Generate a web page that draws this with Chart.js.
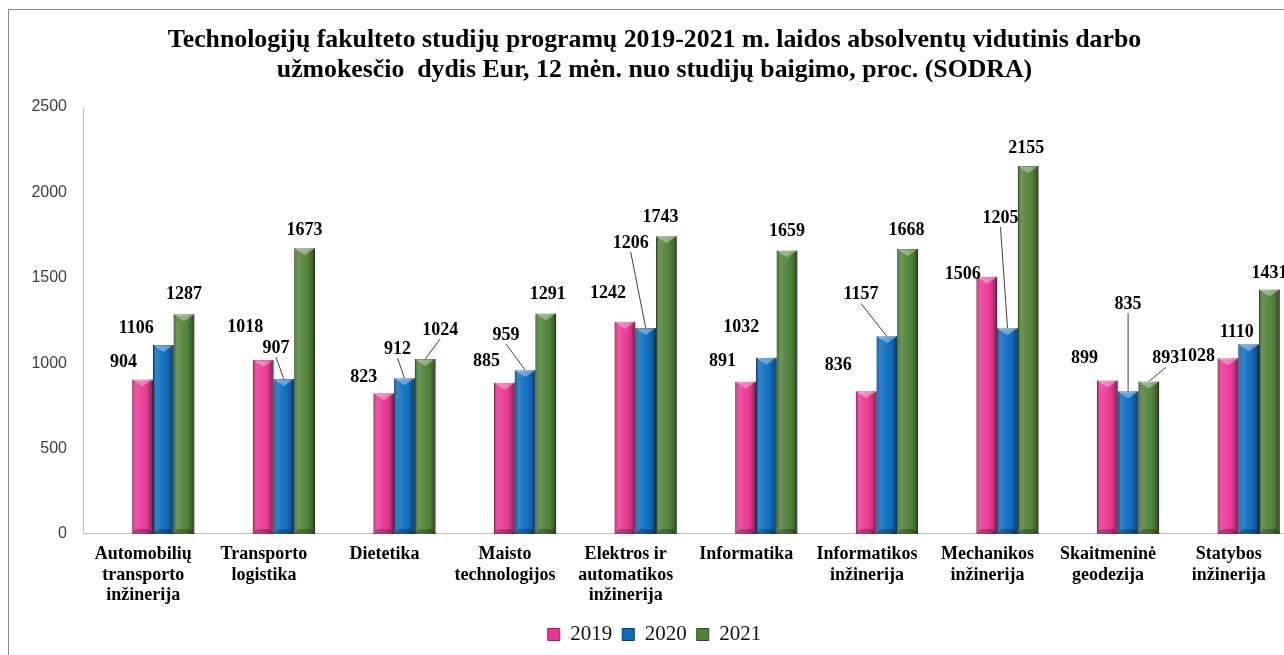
<!DOCTYPE html>
<html>
<head>
<meta charset="utf-8">
<script src="https://cdn.jsdelivr.net/npm/chart.js@4.4.1/dist/chart.umd.min.js"></script>
<style>
    html, body { margin: 0; padding: 0; background: #fff; overflow: hidden; }
    #frame { position: absolute; left: 8px; top: 9px; width: 1400px; height: 700px; border: 1px solid #8c8c8c; }
    #wrap { position: absolute; left: 0; top: 0; }
</style>
</head>
<body>
<div id="frame"></div>
<div id="wrap"><canvas id="salaryChart" width="1310" height="655"></canvas></div>
<script>
// study programmes (x axis), multi-line labels
const programmes = [
    ['Automobilių', 'transporto', 'inžinerija'],
    ['Transporto', 'logistika'],
    ['Dietetika'],
    ['Maisto', 'technologijos'],
    ['Elektros ir', 'automatikos', 'inžinerija'],
    ['Informatika'],
    ['Informatikos', 'inžinerija'],
    ['Mechanikos', 'inžinerija'],
    ['Skaitmeninė', 'geodezija'],
    ['Statybos', 'inžinerija']
];
const years = ['2019', '2020', '2021'];

// average salary, Eur
const pay2019 = [904, 1018, 823, 885, 1242, 891, 836, 1506, 899, 1028];
const pay2020 = [1106, 907, 912, 959, 1206, 1032, 1157, 1205, 835, 1110];
const pay2021 = [1287, 1673, 1024, 1291, 1743, 1659, 1668, 2155, 893, 1431];

const yTicks = [0, 500, 1000, 1500, 2000, 2500];

// where each value label sits relative to its bar top: [dx, dy, leader line]
const labelNudge = [
    [[-19, -17], [-18, -33], [-20, -16], [-18, -21], [-17, -28], [-23, -20], [-28, -26], [-24, -2], [-23, -22], [-31, -2]],
    [[-27, -17], [-8, -31, 1], [-7, -29, 1], [-19, -35, 1], [-15, -85, 1], [-25, -30], [-26, -42, 1], [-7, -110, 1], [0, -87, 1], [-12, -12]],
    [[0, -20], [0, -18], [15, -29, 1], [2, -19], [-6, -19], [0, -19], [-1, -19], [-2, -18], [17, -23, 1], [0, -16]]
];

const fillColors = ['#EC3593', '#0A6BC0', '#4F8236'];
const edgeColors = ['#9E1C5E', '#003A70', '#2A4A1A'];

// bevelled bar look + value labels
const barDecor = {
    id: 'barDecor',
    afterDatasetsDraw(chart) {
        const ctx = chart.ctx;
        chart.data.datasets.forEach((ds, di) => {
            chart.getDatasetMeta(di).data.forEach((bar) => {
                const { x, y, base, width } = bar.getProps(['x', 'y', 'base', 'width'], true);
                const l = x - width / 2, r = x + width / 2;
                const g = ctx.createLinearGradient(l, 0, r, 0);
                g.addColorStop(0, 'rgba(0,0,0,0.35)');
                g.addColorStop(0.18, 'rgba(255,255,255,0.16)');
                g.addColorStop(0.5, 'rgba(255,255,255,0.05)');
                g.addColorStop(0.8, 'rgba(0,0,0,0.12)');
                g.addColorStop(1, 'rgba(0,0,0,0.5)');
                ctx.save();
                ctx.fillStyle = g;
                ctx.fillRect(l, y, width, base - y);
                ctx.fillStyle = 'rgba(255,255,255,0.35)';
                ctx.beginPath();
                ctx.moveTo(l, y); ctx.lineTo(r, y); ctx.lineTo(x, y + 7);
                ctx.closePath(); ctx.fill();
                ctx.fillStyle = 'rgba(0,0,0,0.25)';
                ctx.beginPath();
                ctx.moveTo(l, base); ctx.lineTo(r, base); ctx.lineTo(r - 4, base - 5); ctx.lineTo(l + 4, base - 5);
                ctx.closePath(); ctx.fill();
                ctx.restore();
            });
        });

        ctx.save();
        ctx.font = 'bold 18px "Liberation Serif"';
        ctx.textAlign = 'center';
        ctx.textBaseline = 'middle';
        chart.data.datasets.forEach((ds, di) => {
            chart.getDatasetMeta(di).data.forEach((bar, i) => {
                const { x, y } = bar.getProps(['x', 'y'], true);
                const [dx, dy, lead] = labelNudge[di][i];
                const lx = x + dx, ly = y + dy;
                if (lead) {
                    ctx.strokeStyle = '#404040';
                    ctx.lineWidth = 1;
                    ctx.beginPath();
                    ctx.moveTo(lx, ly + 9);
                    ctx.lineTo(x, y);
                    ctx.stroke();
                }
                ctx.fillStyle = '#000';
                ctx.fillText(String(ds.data[i]), lx, ly);
            });
        });
        ctx.restore();
    }
};

new Chart(document.getElementById('salaryChart'), {
    type: 'bar',
    data: {
        labels: programmes,
        datasets: [pay2019, pay2020, pay2021].map((d, k) => ({
            label: years[k],
            data: d,
            backgroundColor: fillColors[k],
            borderColor: edgeColors[k],
            borderWidth: 1,
            categoryPercentage: 0.515,
            barPercentage: 1.0
        }))
    },
    options: {
        responsive: false,
        animation: false,
        layout: { padding: { top: 25, right: 1, bottom: 0, left: 0 } },
        plugins: {
            title: {
                display: true,
                text: [
                    'Technologijų fakulteto studijų programų 2019-2021 m. laidos absolventų vidutinis darbo',
                    'užmokesčio  dydis Eur, 12 mėn. nuo studijų baigimo, proc. (SODRA)'
                ],
                color: '#000',
                font: { family: '"Liberation Serif"', size: 25.8, weight: 'bold', lineHeight: 1.163 },
                padding: { top: 0, bottom: 22 }
            },
            legend: {
                position: 'bottom',
                labels: {
                    boxWidth: 12, boxHeight: 12, padding: 10, color: '#111',
                    font: { family: '"Liberation Serif"', size: 21 }
                }
            },
            tooltip: { enabled: false }
        },
        scales: {
            x: {
                grid: { display: false },
                border: { color: '#bfbfbf' },
                afterFit: (s) => { s.height += 6; },
                ticks: {
                    color: '#000', autoSkip: false, maxRotation: 0, padding: 2, labelOffset: -20,
                    font: { family: '"Liberation Serif"', size: 18, weight: 'bold', lineHeight: 1.15 }
                }
            },
            y: {
                position: 'left', weight: 1,
                min: 0, max: 2500,
                afterBuildTicks: (s) => { s.ticks = yTicks.map(v => ({ value: v })); },
                afterFit: (s) => { s.width = 83; },
                grid: { display: false },
                border: { color: '#bfbfbf' },
                ticks: {
                    color: '#404040', padding: 8,
                    font: { family: '"Liberation Sans"', size: 16 },
                    callback: (v) => String(v)
                }
            },
            yGap: {
                position: 'left', weight: 0,
                min: 0, max: 2500,
                afterBuildTicks: (s) => { s.ticks = [{ value: 0 }]; },
                afterFit: (s) => { s.width = 20; },
                grid: { drawOnChartArea: false, drawTicks: true, tickLength: 20, color: '#bfbfbf' },
                border: { display: false },
                ticks: { display: false }
            }
        }
    },
    plugins: [barDecor]
});
</script>
</body>
</html>
